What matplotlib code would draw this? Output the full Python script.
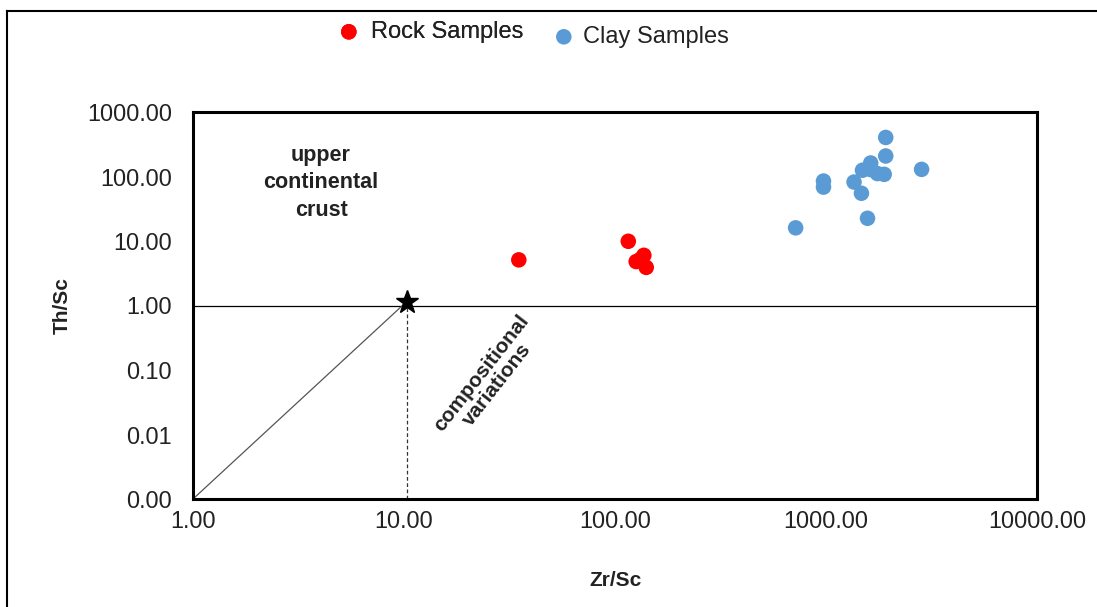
import matplotlib
matplotlib.use("Agg")
import matplotlib.pyplot as plt
from matplotlib.ticker import FixedLocator, FuncFormatter

plt.rcParams['font.family'] = ['Liberation Sans', 'DejaVu Sans']

# Data
rock_zr_sc = [35.0, 115.6, 137.0, 126.0, 140.6, 132.0]
rock_th_sc = [5.1, 9.9, 6.0, 4.8, 3.9, 5.2]

clay_zr_sc = [1919, 1919, 2838, 1629, 1489, 1754, 1887, 1629, 1358, 973, 973, 1472, 1573, 718]
clay_th_sc = [403, 208, 129, 162, 125, 111, 108, 128, 82, 85, 68.5, 55, 22.5, 16.0]

ucc_zr_sc = 10.3
ucc_th_sc = 1.15
origin_zr_sc = 1.0
origin_th_sc = 0.001

x_ticks = [1, 10, 100, 1000, 10000]
y_ticks = [0.001, 0.01, 0.1, 1, 10, 100, 1000]

fig = plt.figure(figsize=(10.97, 6.07), dpi=100)
ax = fig.add_axes([193/1097, 1-499/607, (1037-193)/1097, (499-112)/607])

ax.set_xscale('log')
ax.set_yscale('log')
ax.set_xlim(1, 10000)
ax.set_ylim(0.001, 1000)

# reference lines
ax.axhline(1.0, color='black', lw=0.9, zorder=1)
ax.plot([origin_zr_sc, ucc_zr_sc], [origin_th_sc, ucc_th_sc], color='#555555', lw=0.9, zorder=1)
ax.plot([ucc_zr_sc, ucc_zr_sc], [origin_th_sc, ucc_th_sc], color='#333333', lw=0.9,
        ls=(0, (3, 2)), zorder=1)
ax.plot([ucc_zr_sc], [ucc_th_sc], marker='*', color='black', ms=17, ls='none', zorder=4)

rock = ax.scatter(rock_zr_sc, rock_th_sc, s=125, color='#FF0000', edgecolors='none',
                  zorder=3, label='Rock Samples')
clay = ax.scatter(clay_zr_sc, clay_th_sc, s=125, color='#5B9BD5', edgecolors='none',
                  zorder=3, label='Clay Samples')

ax.xaxis.set_major_locator(FixedLocator(x_ticks))
ax.yaxis.set_major_locator(FixedLocator(y_ticks))
ax.xaxis.set_minor_locator(FixedLocator([]))
ax.yaxis.set_minor_locator(FixedLocator([]))
fmt = FuncFormatter(lambda v, p: f"{v:.2f}")
ax.xaxis.set_major_formatter(fmt)
ax.yaxis.set_major_formatter(fmt)
ax.tick_params(axis='both', length=0, labelsize=16.8, colors='#222222')
ax.tick_params(axis='y', pad=15)
ax.tick_params(axis='x', pad=8)

for sp in ax.spines.values():
    sp.set_linewidth(2.2)
    sp.set_color('black')

ax.set_ylabel('Th/Sc', fontsize=15, fontweight='bold', color='#222222', labelpad=11)
ax.set_xlabel('Zr/Sc', fontsize=15, fontweight='bold', color='#222222', labelpad=27)

fig.text(321/1097, 1-183/607, 'upper\ncontinental\ncrust', ha='center', va='center',
         fontsize=15.5, fontweight='bold', color='#222222', linespacing=1.4)
fig.text(489/1097, 1-379/607, 'compositional\nvariations', ha='center', va='center',
         fontsize=15, fontweight='bold', color='#222222', rotation=52,
         rotation_mode='anchor', linespacing=1.05)

leg1 = fig.legend(handles=[rock], loc='center left', bbox_to_anchor=(337/1097, 1-32/607),
                  frameon=False, fontsize=17, handlelength=1.0, handletextpad=0.42,
                  borderpad=0.0, borderaxespad=0.0, labelcolor='#222222')
leg2 = fig.legend(handles=[clay], loc='center left', bbox_to_anchor=(552/1097, 1-37/607),
                  frameon=False, fontsize=17, handlelength=1.0, handletextpad=0.3,
                  borderpad=0.0, borderaxespad=0.0, labelcolor='#222222')
fig.add_artist(leg1)

# outer frame lines (top and left, as in the reference)
fig.add_artist(plt.Line2D([7/1097, 1], [1-11/607, 1-11/607], color='black', lw=1.5,
                          transform=fig.transFigure))
fig.add_artist(plt.Line2D([7/1097, 7/1097], [0, 1-11/607], color='black', lw=1.5,
                          transform=fig.transFigure))

fig.savefig('out.png', dpi=100)
